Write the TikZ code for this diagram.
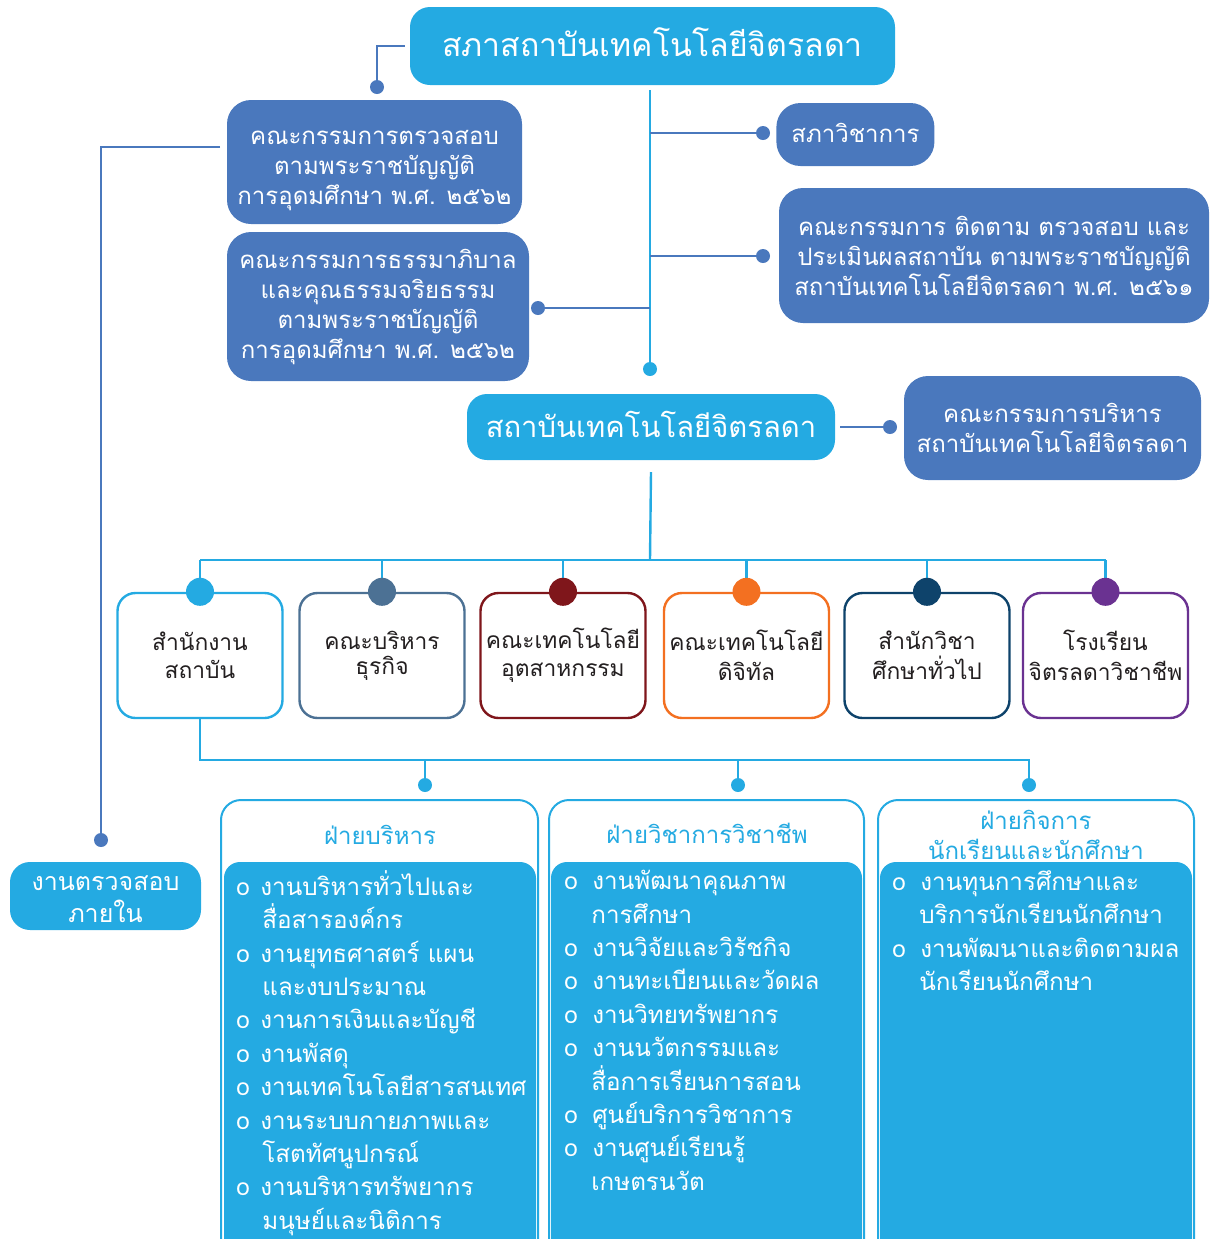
\documentclass[tikz,border=0pt]{standalone}
\usepackage{fontspec}
\setmainfont[Script=Thai]{Loma}
\definecolor{cy}{HTML}{24AAE2}
\definecolor{sb}{HTML}{4A78BD}
\definecolor{slate}{HTML}{4C7194}
\definecolor{maroon}{HTML}{7F161B}
\definecolor{orng}{HTML}{F37021}
\definecolor{navy}{HTML}{0E436B}
\definecolor{purp}{HTML}{6A3291}
\definecolor{ink}{HTML}{231F20}
\newcommand{\bitem}[2]{\makebox[#1][l]{o}#2}
\newcommand{\bcont}[2]{\hspace*{#1}#2}
\begin{document}
\begin{tikzpicture}[x=0.5pt,y=-0.5pt,
  bluebox/.style={fill=sb, text=white, rounded corners=12pt, inner sep=0pt, align=center, font=\fontsize{12}{15}\selectfont},
  cybox/.style={fill=cy, text=white, rounded corners=10pt, inner sep=0pt, align=center},
  unit/.style={draw=#1, line width=1.2pt, fill=white, rounded corners=9pt, minimum width=82.5pt, minimum height=62.5pt, inner sep=0pt, align=center, text=ink, font=\fontsize{11.4}{15}\selectfont},
  cyline/.style={draw=cy, line width=1.2pt},
  blline/.style={draw=sb, line width=1pt},
  sdot/.style={circle, fill=#1, minimum size=7pt, inner sep=0pt},
  bdot/.style={circle, fill=#1, minimum size=14pt, inner sep=0pt},
  panel/.style={draw=cy, line width=1pt, fill=white, rounded corners=10pt, inner sep=0pt},
  inner/.style={fill=cy, rounded corners=8pt, inner sep=0pt},
  listtxt/.style={anchor=north west, inner sep=0pt, align=left, text=white, font=\fontsize{12.1}{16.7}\selectfont},
  headtxt/.style={text=cy, align=center, inner sep=0pt, font=\fontsize{12}{15}\selectfont}]
\useasboundingbox (0,0) rectangle (1211,1239);
\clip (0,0) rectangle (1211,1239);

% ---- top level ----
\node[cybox, minimum width=242.5pt, minimum height=39pt, font=\fontsize{16}{19}\selectfont] (top) at (652.5,46) {\raisebox{4pt}{สภาสถาบันเทคโนโลยีจิตรลดา}};
\node[bluebox, minimum width=147.5pt, minimum height=62pt] (audit) at (374.5,162) {};
\node[text=white, align=center, inner sep=0pt, font=\fontsize{12}{15}\selectfont] (audittext) at ([yshift=-4.5pt]audit.center) {คณะกรรมการตรวจสอบ\\ตามพระราชบัญญัติ\\การอุดมศึกษา พ.ศ. ๒๕๖๒};
\node[bluebox, minimum width=151pt, minimum height=74.5pt] (gov) at (378,306.5) {คณะกรรมการธรรมาภิบาล\\และคุณธรรมจริยธรรม\\ตามพระราชบัญญัติ\\การอุดมศึกษา พ.ศ. ๒๕๖๒};
\node[bluebox, minimum width=79pt, minimum height=31.5pt, anchor=west] (acad) at (776,134.5) {\raisebox{1.5pt}{สภาวิชาการ}};
\node[bluebox, minimum width=215pt, minimum height=67.5pt] (eval) at (994,255.5) {คณะกรรมการ ติดตาม ตรวจสอบ และ\\ประเมินผลสถาบัน ตามพระราชบัญญัติ\\สถาบันเทคโนโลยีจิตรลดา พ.ศ. ๒๕๖๑};
\node[cybox, minimum width=184pt, minimum height=33pt, font=\fontsize{14.6}{18}\selectfont] (inst) at (651,427) {\raisebox{2.5pt}{สถาบันเทคโนโลยีจิตรลดา}};
\node[bluebox, minimum width=148.5pt, minimum height=52pt] (exec) at (1052.5,428) {คณะกรรมการบริหาร\\สถาบันเทคโนโลยีจิตรลดา};
\node[cybox, minimum width=95.5pt, minimum height=34pt, font=\fontsize{12.5}{16}\selectfont] (intaud) at (105.5,896) {};
\node[text=white, align=center, inner sep=0pt, font=\fontsize{12.5}{16}\selectfont] (intaudtext) at ([yshift=-1.5pt]intaud.center) {งานตรวจสอบ\\ภายใน};

% ---- connectors top ----
\coordinate (spine) at (650,90);
\node[sdot=sb] (dtop) at (377,87) {};
\draw[blline] ([xshift=-2.5pt]top.west) -| (dtop.center);
\node[sdot=cy] (dspine) at (650,369) {};
\draw[cyline] (spine) -- (dspine.center);
\node[sdot=sb] (dacad) at (763,133) {};
\node[sdot=sb] (deval) at (763,256) {};
\node[sdot=sb] (dgov) at (538,308) {};
\draw[blline] (spine |- dacad) -- (dacad.center);
\draw[blline] (spine |- deval) -- (deval.center);
\draw[blline] (spine |- dgov) -- (dgov.center);
\coordinate (auditL) at (220,147);
\node[sdot=sb] (dint) at (101,840) {};
\draw[blline] (auditL) -| (dint.center);
\coordinate (instR) at (840,427);
\node[sdot=sb] (dexec) at (890,427) {};
\draw[blline] (instR) -- (dexec.center);

% ---- units ----
\node[unit=cy] (u1) at (200,655.5) {\raisebox{-1pt}{สำนักงาน}\\สถาบัน};
\node[unit=slate] (u2) at (382,655.5) {\raisebox{-2.5pt}{คณะบริหาร}\\ธุรกิจ};
\node[unit=maroon] (u3) at (563,655.5) {\raisebox{-1pt}{คณะเทคโนโลยี}\\อุตสาหกรรม};
\node[unit=orng] (u4) at (746.5,655.5) {คณะเทคโนโลยี\\ดิจิทัล};
\node[unit=navy] (u5) at (927,655.5) {สำนักวิชา\\ศึกษาทั่วไป};
\node[unit=purp] (u6) at (1105.5,655.5) {โรงเรียน\\จิตรลดาวิชาชีพ};
\coordinate (bar) at (650,560);
\draw[cyline] (inst.south |- 0,472) -- (bar);
\draw[cyline] (u1.north |- bar) -- (u6.north |- bar);
\foreach \u/\c in {u1/cy,u2/slate,u3/maroon,u4/orng,u5/navy,u6/purp}{
  \draw[cyline] (\u.north |- bar) -- (\u.north);
  \node[bdot=\c] at (\u.north) {};
}

% ---- panels ----
\node[panel, minimum width=158.5pt, minimum height=235pt] (p1) at (379.5,1035) {};
\node[panel, minimum width=157.5pt, minimum height=235pt] (p2) at (706.5,1035) {};
\node[panel, minimum width=158pt, minimum height=235pt] (p3) at (1036,1035) {};
\node[inner, minimum width=156pt, minimum height=204pt] (i1) at (380,1066) {};
\node[inner, minimum width=155.5pt, minimum height=204pt] (i2) at (706.5,1066) {};
\node[inner, minimum width=156pt, minimum height=204pt] (i3) at (1036,1066) {};
\node[headtxt] (h1) at (380,835) {ฝ่ายบริหาร};
\node[headtxt] (h2) at (707,833) {ฝ่ายวิชาการวิชาชีพ};
\node[headtxt] (h3) at (1036,835) {ฝ่ายกิจการ\\นักเรียนและนักศึกษา};

\coordinate (bar2) at (200,760);
\node[sdot=cy] (dp1) at (425,785) {};
\node[sdot=cy] (dp2) at (738,785) {};
\node[sdot=cy] (dp3) at (1029,785) {};
\draw[cyline] (u1.south) -- (bar2) -- (dp3.center |- bar2) -- (dp3.center);
\draw[cyline] (dp1.center |- bar2) -- (dp1.center);
\draw[cyline] (dp2.center |- bar2) -- (dp2.center);

\node[listtxt] (l1) at (236,870) {%
\bitem{12pt}{งานบริหารทั่วไปและ}\\
\bcont{13pt}{สื่อสารองค์กร}\\
\bitem{12pt}{งานยุทธศาสตร์ แผน}\\
\bcont{13pt}{และงบประมาณ}\\
\bitem{12pt}{งานการเงินและบัญชี}\\
\bitem{12pt}{งานพัสดุ}\\
\bitem{12pt}{งานเทคโนโลยีสารสนเทศ}\\
\bitem{12pt}{งานระบบกายภาพและ}\\
\bcont{13pt}{โสตทัศนูปกรณ์}\\
\bitem{12pt}{งานบริหารทรัพยากร}\\
\bcont{13pt}{มนุษย์และนิติการ}};
\node[listtxt] (l2) at (564,870) {%
\bitem{14pt}{งานพัฒนาคุณภาพ}\\
\bcont{13.5pt}{การศึกษา}\\
\bitem{14pt}{งานวิจัยและวิรัชกิจ}\\
\bitem{14pt}{งานทะเบียนและวัดผล}\\
\bitem{14pt}{งานวิทยทรัพยากร}\\
\bitem{14pt}{งานนวัตกรรมและ}\\
\bcont{13.5pt}{สื่อการเรียนการสอน}\\
\bitem{14pt}{ศูนย์บริการวิชาการ}\\
\bitem{14pt}{งานศูนย์เรียนรู้}\\
\bcont{13.5pt}{เกษตรนวัต}};
\node[listtxt] (l3) at (892,870) {%
\bitem{14pt}{งานทุนการศึกษาและ}\\
\bcont{13.5pt}{บริการนักเรียนนักศึกษา}\\
\bitem{14pt}{งานพัฒนาและติดตามผล}\\
\bcont{13.5pt}{นักเรียนนักศึกษา}};
\end{tikzpicture}
\end{document}
